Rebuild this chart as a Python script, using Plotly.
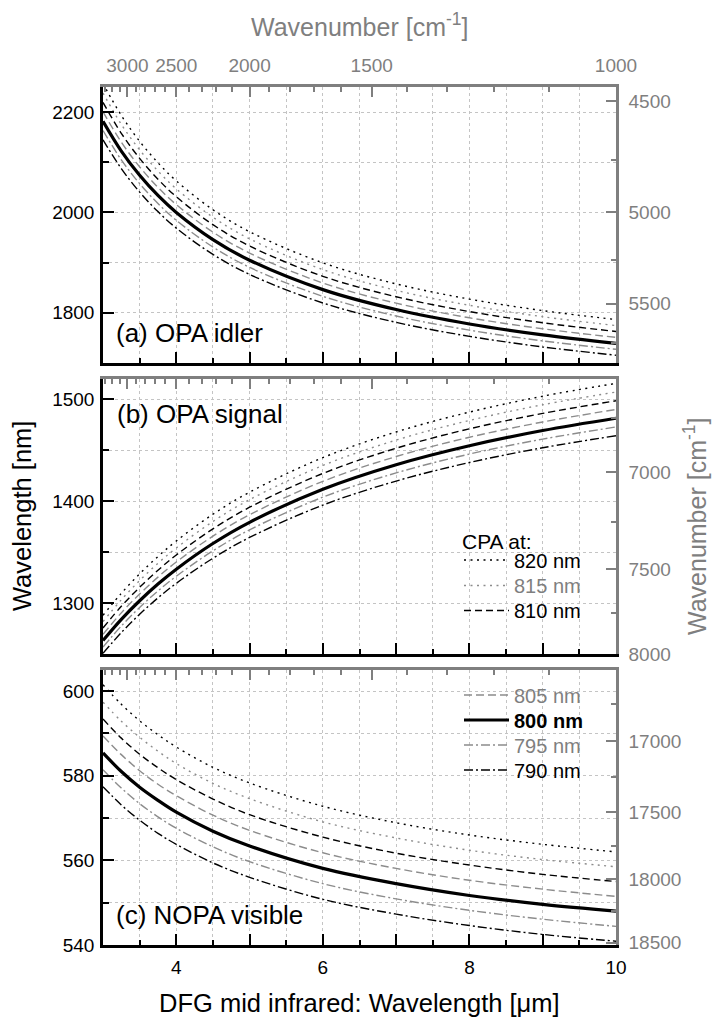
import plotly.graph_objects as go

# ---------------- data ----------------
dfg_um = [3.0, 3.25, 3.5, 3.75, 4.0, 4.5, 5.0, 6.0, 7.0, 8.0, 9.0, 10.0]

# (a) OPA idler wavelength [nm]
idler_820 = [2256.9, 2193.4, 2141.8, 2099.0, 2062.9, 2005.4, 1961.7, 1899.6, 1857.6, 1827.3, 1804.4, 1786.5]
idler_815 = [2238.0, 2175.6, 2124.8, 2082.6, 2047.1, 1990.5, 1947.4, 1886.2, 1844.8, 1814.9, 1792.3, 1774.6]
idler_810 = [2219.2, 2157.8, 2107.8, 2066.3, 2031.3, 1975.6, 1933.2, 1872.8, 1832.0, 1802.5, 1780.2, 1762.8]
idler_805 = [2200.5, 2140.1, 2090.9, 2050.1, 2015.6, 1960.8, 1919.0, 1859.5, 1819.2, 1790.1, 1768.2, 1751.0]
idler_800 = [2181.8, 2122.4, 2074.1, 2033.9, 2000.0, 1945.9, 1904.8, 1846.2, 1806.5, 1777.8, 1756.1, 1739.1]
idler_795 = [2163.3, 2104.9, 2057.4, 2017.8, 1984.3, 1931.2, 1890.6, 1832.9, 1793.7, 1765.4, 1744.1, 1727.3]
idler_790 = [2144.8, 2087.4, 2040.6, 2001.7, 1968.8, 1916.4, 1876.5, 1819.6, 1781.0, 1753.1, 1732.0, 1715.5]

# (b) OPA signal wavelength [nm]
signal_820 = [1288.0, 1309.6, 1328.7, 1345.7, 1361.0, 1387.2, 1408.9, 1442.8, 1468.0, 1487.5, 1503.1, 1515.7]
signal_815 = [1281.8, 1303.2, 1322.1, 1339.1, 1354.1, 1380.1, 1401.5, 1435.1, 1460.0, 1479.3, 1494.7, 1507.2]
signal_810 = [1275.6, 1296.8, 1315.5, 1332.2, 1347.2, 1372.9, 1394.1, 1427.3, 1452.0, 1471.1, 1486.2, 1498.6]
signal_805 = [1269.3, 1290.4, 1308.9, 1325.5, 1340.3, 1365.7, 1386.7, 1419.5, 1443.9, 1462.8, 1477.8, 1490.1]
signal_800 = [1263.2, 1284.0, 1302.3, 1318.7, 1333.3, 1358.5, 1379.3, 1411.8, 1435.9, 1454.5, 1469.4, 1481.5]
signal_795 = [1256.9, 1277.5, 1295.7, 1311.9, 1326.4, 1351.3, 1371.9, 1404.0, 1427.8, 1446.3, 1461.0, 1472.9]
signal_790 = [1250.7, 1271.0, 1289.0, 1305.1, 1319.4, 1344.0, 1364.4, 1396.2, 1419.8, 1438.0, 1452.5, 1464.3]

# (c) NOPA visible wavelength [nm]
vis_820 = [601.5, 596.9, 593.0, 589.7, 586.8, 582.0, 578.3, 572.8, 568.9, 566.0, 563.8, 562.0]
vis_815 = [597.4, 592.9, 589.1, 585.8, 582.9, 578.2, 574.6, 569.1, 565.3, 562.4, 560.2, 558.5]
vis_810 = [593.4, 588.9, 585.1, 581.9, 579.1, 574.5, 570.8, 565.5, 561.7, 558.9, 556.7, 555.0]
vis_805 = [589.4, 585.0, 581.2, 578.0, 575.3, 570.7, 567.1, 561.8, 558.1, 555.3, 553.2, 551.5]
vis_800 = [585.4, 581.0, 577.3, 574.2, 571.4, 566.9, 563.4, 558.1, 554.5, 551.7, 549.6, 548.0]
vis_795 = [581.4, 577.1, 573.4, 570.3, 567.6, 563.2, 559.7, 554.5, 550.9, 548.2, 546.1, 544.4]
vis_790 = [577.4, 573.1, 569.5, 566.4, 563.8, 559.4, 556.0, 550.8, 547.3, 544.6, 542.5, 540.9]

cpa_labels = ["820 nm", "815 nm", "810 nm", "805 nm", "800 nm", "795 nm", "790 nm"]
legend_title = "CPA at:"

# axis ticks
x_major = [4, 5, 6, 7, 8, 9, 10]
x_major_text = ["4", "", "6", "", "8", "", "10"]
x_minor = [3.5, 4.5, 5.5, 6.5, 7.5, 8.5, 9.5]

top_wn_major = [3000, 2500, 2000, 1500, 1000]
top_wn_minor = [3300, 3200, 3100, 2900, 2800, 2700, 2600, 2400, 2300, 2200, 2100,
                1900, 1800, 1700, 1600, 1400, 1300, 1200, 1100]

a_left_major = [1800, 2000, 2200]
a_left_minor = [1700, 1900, 2100]
a_right_major = [4500, 5000, 5500]
a_right_minor = [4750, 5250, 5750]

b_left_major = [1300, 1400, 1500]
b_left_minor = [1250, 1350, 1450]
b_right_major = [7000, 7500, 8000]
b_right_minor = [6750, 7250, 7750]

c_left_major = [540, 560, 580, 600]
c_left_minor = [550, 570, 590]
c_right_major = [17000, 17500, 18000, 18500]
c_right_minor = [16750, 17250, 17750, 18250]

# ---------------- styling ----------------
FONT = "Liberation Sans, Arial, Helvetica, sans-serif"
GRAY = "#7f7f7f"
LGRAY = "#8c8c8c"
GRID = "#c4c4c4"
TICKF = 19

styles = [
    dict(color="black", width=1.4, dash="2px,4.5px"),
    dict(color=LGRAY, width=1.4, dash="2px,4.5px"),
    dict(color="black", width=1.4, dash="7px,4px"),
    dict(color=LGRAY, width=1.4, dash="8px,4px"),
    dict(color="black", width=3.2, dash="solid"),
    dict(color=LGRAY, width=1.4, dash="9px,3px,2px,3px"),
    dict(color="black", width=1.4, dash="9px,3px,2px,3px"),
]
legend_names = [
    cpa_labels[0],
    '<span style="color:%s">%s</span>' % (GRAY, cpa_labels[1]),
    cpa_labels[2],
    '<span style="color:%s">%s</span>' % (GRAY, cpa_labels[3]),
    "<b>%s</b>" % cpa_labels[4],
    '<span style="color:%s">%s</span>' % (GRAY, cpa_labels[5]),
    cpa_labels[6],
]
# legend entry centre heights (pixels from the top of the page)
legend_rows_px = [560, 585.5, 610.5, 695, 720, 745, 770]
legend_ids = ["legend", "legend2", "legend3", "legend4", "legend5", "legend6", "legend7"]

fig = go.Figure()

panels = [
    ("x3", "y3", [idler_820, idler_815, idler_810, idler_805, idler_800, idler_795, idler_790], False),
    ("x2", "y2", [signal_820, signal_815, signal_810, signal_805, signal_800, signal_795, signal_790], False),
    ("x", "y", [vis_820, vis_815, vis_810, vis_805, vis_800, vis_795, vis_790], True),
]

for xa, ya, series, show in panels:
    for i, vals in enumerate(series):
        st = styles[i]
        fig.add_trace(go.Scatter(
            x=dfg_um, y=vals, xaxis=xa, yaxis=ya, mode="lines",
            line=dict(color=st["color"], width=st["width"], dash=st["dash"], shape="spline"),
            name=legend_names[i], showlegend=show, legend=legend_ids[i],
            hoverinfo="skip",
        ))

# empty traces so that the secondary (wavenumber) axes exist
for xa, ya in [("x4", "y3"), ("x5", "y2"), ("x6", "y"), ("x3", "y4"), ("x2", "y5"), ("x", "y6")]:
    fig.add_trace(go.Scatter(x=[None], y=[None], xaxis=xa, yaxis=ya, showlegend=False,
                             hoverinfo="skip", mode="lines"))

H = 858.0
dom_c = [0, 275 / H]
dom_b = [291 / H, 566 / H]
dom_a = [582 / H, 1]


def bottom_x(anchor, labels):
    return dict(
        range=[3, 10], anchor=anchor, domain=[0, 1],
        showline=True, linecolor="black", linewidth=2.5,
        ticks="inside", ticklen=11, tickwidth=2, tickcolor="black",
        tickmode="array", tickvals=x_major, ticktext=x_major_text,
        showticklabels=labels, tickfont=dict(size=TICKF, color="black", family=FONT),
        ticklabelstandoff=3,
        showgrid=True, gridcolor=GRID, griddash="dot", gridwidth=1,
        minor=dict(tickmode="array", tickvals=x_minor, ticks="inside", ticklen=5,
                   tickwidth=2, tickcolor="black", showgrid=True, gridcolor=GRID,
                   griddash="dot", gridwidth=1),
        zeroline=False, layer="above traces",
    )


def top_x(overlay, anchor, labels):
    return dict(
        range=[3, 10], overlaying=overlay, anchor=anchor, side="top",
        showline=True, linecolor=GRAY, linewidth=2.5,
        ticks="inside", ticklen=10, tickwidth=2, tickcolor=GRAY,
        tickmode="array", tickvals=[1e4 / v for v in top_wn_major],
        ticktext=[str(v) for v in top_wn_major],
        showticklabels=labels, tickfont=dict(size=TICKF, color=GRAY, family=FONT),
        ticklabelstandoff=5,
        minor=dict(tickmode="array", tickvals=[1e4 / v for v in top_wn_minor], ticks="inside",
                   ticklen=5, tickwidth=2, tickcolor=GRAY, showgrid=False),
        showgrid=False, zeroline=False, layer="above traces",
    )


def left_y(anchor, dom, rng, major, minor):
    return dict(
        range=rng, domain=dom, anchor=anchor,
        showline=True, linecolor="black", linewidth=2.5,
        ticks="inside", ticklen=11, tickwidth=2, tickcolor="black",
        tickmode="array", tickvals=major, ticktext=[str(v) for v in major],
        tickfont=dict(size=TICKF, color="black", family=FONT),
        ticklabelstandoff=2,
        showgrid=True, gridcolor=GRID, griddash="dot", gridwidth=1,
        minor=dict(tickmode="array", tickvals=minor, ticks="inside", ticklen=6,
                   tickwidth=2, tickcolor="black", showgrid=True, gridcolor=GRID,
                   griddash="dot", gridwidth=1),
        zeroline=False, layer="above traces",
    )


def right_y(overlay, anchor, rng, major, minor):
    return dict(
        range=rng, overlaying=overlay, anchor=anchor, side="right",
        showline=True, linecolor=GRAY, linewidth=2.5,
        ticks="inside", ticklen=10, tickwidth=2, tickcolor=GRAY,
        tickmode="array", tickvals=[1e7 / v for v in major], ticktext=[str(v) for v in major],
        tickfont=dict(size=TICKF, color=GRAY, family=FONT),
        ticklabelstandoff=6,
        minor=dict(tickmode="array", tickvals=[1e7 / v for v in minor], ticks="inside",
                   ticklen=5, tickwidth=2, tickcolor=GRAY, showgrid=False),
        showgrid=False, zeroline=False, layer="above traces",
    )


legend_layout = {}
for lid, ypx in zip(legend_ids, legend_rows_px):
    legend_layout[lid] = dict(
        x=(459 - 103) / 513, xanchor="left", y=(945 - ypx) / H, yanchor="middle",
        bgcolor="rgba(0,0,0,0)", borderwidth=0, itemwidth=45,
        font=dict(size=20, family=FONT, color="black"),
    )

fig.update_layout(
    width=713, height=1021,
    margin=dict(l=103, r=97, t=87, b=76),
    paper_bgcolor="white", plot_bgcolor="white",
    font=dict(family=FONT, size=20, color="black"),
    xaxis=bottom_x("y", True),
    xaxis2=bottom_x("y2", False),
    xaxis3=bottom_x("y3", False),
    xaxis4=top_x("x3", "y3", True),
    xaxis5=top_x("x2", "y2", False),
    xaxis6=top_x("x", "y", False),
    yaxis=left_y("x", dom_c, [540, 605], c_left_major, c_left_minor),
    yaxis2=left_y("x2", dom_b, [1250, 1520], b_left_major, b_left_minor),
    yaxis3=left_y("x3", dom_a, [1700, 2250], a_left_major, a_left_minor),
    yaxis4=right_y("y3", "x3", [1700, 2250], a_right_major, a_right_minor),
    yaxis5=right_y("y2", "x2", [1250, 1520], b_right_major, b_right_minor),
    yaxis6=right_y("y", "x", [540, 605], c_right_major, c_right_minor),
    showlegend=True,
    **legend_layout,
)

ann_font = dict(size=26, family=FONT, color="black")
fig.add_annotation(text="(a) OPA idler", xref="paper", yref="y3 domain", x=11 / 513, y=30 / 276,
                   xanchor="left", yanchor="middle", showarrow=False, font=ann_font)
fig.add_annotation(text="(b) OPA signal", xref="paper", yref="y2 domain", x=12 / 513, y=1 - 35 / 275,
                   xanchor="left", yanchor="middle", showarrow=False, font=ann_font)
fig.add_annotation(text="(c) NOPA visible", xref="paper", yref="y domain", x=11 / 513, y=30 / 275,
                   xanchor="left", yanchor="middle", showarrow=False, font=ann_font)

fig.add_annotation(text=legend_title, xref="paper", yref="paper",
                   x=(460 - 103) / 513, y=(945 - 541) / H, xanchor="left", yanchor="middle",
                   showarrow=False, font=dict(size=21, family=FONT, color="black"))

fig.add_annotation(text="Wavenumber [cm<sup>-1</sup>]", xref="paper", yref="paper",
                   x=0.5, y=(945 - 25) / H, xanchor="center", yanchor="middle", showarrow=False,
                   font=dict(size=25, family=FONT, color=GRAY))
fig.add_annotation(text="DFG mid infrared: Wavelength [μm]", xref="paper", yref="paper",
                   x=0.5, y=(945 - 1003) / H, xanchor="center", yanchor="middle", showarrow=False,
                   font=dict(size=25.5, family=FONT, color="black"))
fig.add_annotation(text="Wavelength [nm]", xref="paper", yref="paper",
                   x=(22 - 103) / 513, y=0.5, xanchor="center", yanchor="middle", showarrow=False,
                   textangle=-90, font=dict(size=25.5, family=FONT, color="black"))
fig.add_annotation(text="Wavenumber [cm<sup>-1</sup>]", xref="paper", yref="paper",
                   x=(695 - 103) / 513, y=(945 - 527) / H, xanchor="center", yanchor="middle",
                   showarrow=False, textangle=-90, font=dict(size=25, family=FONT, color=GRAY))

fig.write_html("out.html")
